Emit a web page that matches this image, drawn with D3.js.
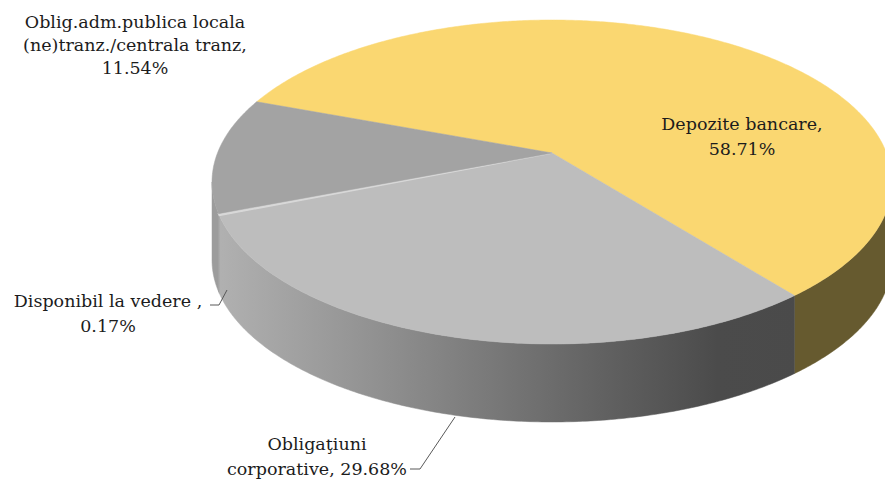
<!DOCTYPE html>
<html>
<head>
<meta charset="utf-8">
<script src="https://cdn.jsdelivr.net/npm/d3@7"></script>
<style>
body { margin: 0; background: #fff; }
text { font-family: "DejaVu Serif", serif; font-size: 17.5px; fill: #1c1c1c; }
</style>
</head>
<body>
<script>
//Global variables
const width = 885;
const height = 481;

//Data
const categories = ["Depozite bancare", "Obligaţiuni corporative", "Disponibil la vedere ", "Oblig.adm.publica locala (ne)tranz./centrala tranz"];
const shares = [58.71, 29.68, 0.17, 11.54];
const topColors = ["#fad771", "#bdbdbd", "#d8d8d8", "#a3a3a3"];
const sideColors = ["#665a2f", "url(#sideGrad)", "#a0a0a0", "#9c9c9c"];

//Label layout (breaks = character positions where the text wraps)
const labelLayout = [
    {x: 742, y: 130, anchor: "middle", breaks: [17], dy: 25},
    {x: 317, y: 450, anchor: "middle", breaks: [11], dy: 25, leader: [[410, 469], [420, 469]], end: [455, 417]},
    {x: 108, y: 307, anchor: "middle", breaks: [22], dy: 25, leader: [[210, 305], [219, 305]], end: [227, 290]},
    {x: 135, y: 28, anchor: "middle", breaks: [24, 51], dy: 23}
];

//3D pie geometry (perspective tilt)
const cx = 552, cy = 153;
const A = 334.5, B = 156.8, k = 0.179;
const depth = 78;
const startAngle = -69.7 * Math.PI / 180;

const proj = (t, z) => {
    const w = 1 + k * Math.cos(t);
    return [cx + A * Math.sin(t) / w, cy - B * Math.cos(t) / w + z];
};
const arcPoints = (a, b, z) => {
    const n = Math.max(2, Math.ceil((b - a) / 0.01));
    return d3.range(n + 1).map(i => proj(a + (b - a) * i / n, z));
};
const line = d3.line();

const pie = d3.pie().sort(null).value(d => d)
    .startAngle(startAngle).endAngle(startAngle + 2 * Math.PI);
const slices = pie(shares);

//SVG element
const svg = d3.select("body")
    .append("svg")
    .attr("width", width)
    .attr("height", height);

const grad = svg.append("defs").append("linearGradient")
    .attr("id", "sideGrad")
    .attr("gradientUnits", "userSpaceOnUse")
    .attr("x1", 212).attr("x2", 800).attr("y1", 0).attr("y2", 0);
[[0, "#b2b2b2"], [0.32, "#8c8c8c"], [0.66, "#626262"], [0.86, "#4b4b4b"], [1, "#4a4a4a"]]
    .forEach(s => grad.append("stop").attr("offset", s[0]).attr("stop-color", s[1]));

//Visible front side: where the outline is facing the viewer
const sideL = Math.acos(-k);
const sideR = 2 * Math.PI - Math.acos(-k);

const sides = svg.append("g");
slices.forEach((s, i) => {
    const a = Math.max(s.startAngle, sideL);
    const b = Math.min(s.endAngle, sideR);
    if (b <= a) return;
    const pts = arcPoints(a, b, 0).concat(arcPoints(a, b, depth).reverse());
    sides.append("path")
        .attr("d", line(pts) + "Z")
        .attr("fill", sideColors[i])
        .attr("stroke", sideColors[i])
        .attr("stroke-width", 0.5);
});

//Top faces
const tops = svg.append("g");
slices.forEach((s, i) => {
    const pts = [[cx, cy]].concat(arcPoints(s.startAngle, s.endAngle, 0));
    tops.append("path")
        .attr("d", line(pts) + "Z")
        .attr("fill", topColors[i])
        .attr("stroke", topColors[i])
        .attr("stroke-width", i === 2 ? 1.5 : 0.5);
});

//Labels
const fmt = d3.format(".2f");
labelLayout.forEach((lay, i) => {
    const txt = categories[i] + ", " + fmt(shares[i]) + "%";
    const cuts = [0].concat(lay.breaks, [txt.length]);
    const lines = d3.range(cuts.length - 1).map(j => txt.slice(cuts[j], cuts[j + 1]).trim());
    const t = svg.append("text")
        .attr("text-anchor", lay.anchor);
    lines.forEach((l, j) => {
        t.append("tspan")
            .attr("x", lay.x)
            .attr("y", lay.y + j * lay.dy)
            .text(l);
    });
    if (lay.leader) {
        svg.append("path")
            .attr("d", line(lay.leader.concat([lay.end])))
            .attr("fill", "none")
            .attr("stroke", "#595959")
            .attr("stroke-width", 1);
    }
});
</script>
</body>
</html>
